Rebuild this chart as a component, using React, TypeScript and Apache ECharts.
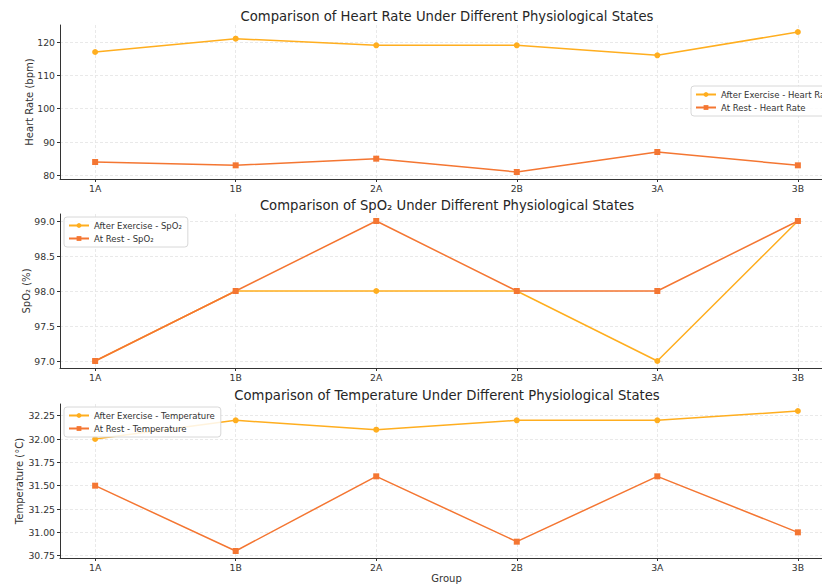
import React, { useEffect, useRef } from "react";
import * as echarts from "echarts";

const categories = ["1A", "1B", "2A", "2B", "3A", "3B"];
const hrExercise = [117, 121, 119, 119, 116, 123];
const hrRest = [84, 83, 85, 81, 87, 83];
const spo2Exercise = [97, 98, 98, 98, 97, 99];
const spo2Rest = [97, 98, 99, 98, 98, 99];
const tempExercise = [32.0, 32.2, 32.1, 32.2, 32.2, 32.3];
const tempRest = [31.5, 30.8, 31.6, 30.9, 31.6, 31.0];
const hrTicks = [80, 90, 100, 110, 120];
const spo2Ticks = [97.0, 97.5, 98.0, 98.5, 99.0];
const tempTicks = [30.75, 31.0, 31.25, 31.5, 31.75, 32.0, 32.25];

const C_EX = "#FFAE1F";
const C_REST = "#F47632";
const FONT = "DejaVu Sans";

export default function App() {
  const ref = useRef<HTMLDivElement>(null);
  useEffect(() => {
    if (!ref.current) return;
    const chart = echarts.init(ref.current, undefined, { renderer: "svg" });
    const xIdx = categories.map((_, i) => i);
    const toPts = (arr: number[]) => arr.map((v, i) => [i, v]);
    const panels = [
      { top: 25, title: "Comparison of Heart Rate Under Different Physiological States", yName: "Heart Rate (bpm)", nameGap: 26, min: 78.9, max: 125.1, ticks: hrTicks, dec: 0, ex: hrExercise, rest: hrRest, exName: "After Exercise - Heart Rate", restName: "At Rest - Heart Rate", legend: { left: 691, top: 86 } },
      { top: 214, title: "Comparison of SpO\u2082 Under Different Physiological States", yName: "SpO\u2082 (%)", nameGap: 29, min: 96.9, max: 99.1, ticks: spo2Ticks, dec: 1, ex: spo2Exercise, rest: spo2Rest, exName: "After Exercise - SpO\u2082", restName: "At Rest - SpO\u2082", legend: { left: 64, top: 217 } },
      { top: 404, title: "Comparison of Temperature Under Different Physiological States", yName: "Temperature (\u00b0C)", nameGap: 36, min: 30.725, max: 32.375, ticks: tempTicks, dec: 2, ex: tempExercise, rest: tempRest, exName: "After Exercise - Temperature", restName: "At Rest - Temperature", legend: { left: 64, top: 407 } },
    ];
    const H = 154;
    const option: any = {
      animation: false,
      backgroundColor: "#ffffff",
      textStyle: { fontFamily: FONT },
      title: panels.map((p) => ({
        text: p.title,
        left: 442,
        textAlign: "center",
        top: p.top - 20,
        textStyle: { fontFamily: FONT, fontSize: 13.2, fontWeight: "normal", color: "#262626" },
      })),
      legend: panels.map((p) => ({
        data: [p.exName, p.restName],
        orient: "vertical",
        left: p.legend.left,
        top: p.legend.top,
        itemWidth: 20,
        itemHeight: 6,
        itemGap: 4,
        padding: [4, 6, 4, 4],
        borderColor: "#d8d8d8",
        borderWidth: 1,
        borderRadius: 3,
        backgroundColor: "rgba(255,255,255,0.85)",
        textStyle: { fontFamily: FONT, fontSize: 8.5, color: "#333" },
      })),
      grid: panels.map((p) => ({ left: 60, width: 773, top: p.top, height: H, outerBoundsMode: "none", containLabel: false })),
      xAxis: panels.map((p, i) => ({
        type: "value",
        gridIndex: i,
        min: -0.25,
        max: 5.25,
        name: i === 2 ? "Group" : "",
        nameLocation: "middle",
        nameGap: 15,
        nameMoveOverlap: false,
        nameTextStyle: { fontFamily: FONT, fontSize: 10, color: "#333", verticalAlign: "top" },
        axisLine: { show: true, onZero: false, lineStyle: { color: "#333", width: 1 } },
        axisTick: { show: true, customValues: xIdx, length: 3, lineStyle: { color: "#333" } },
        axisLabel: {
          customValues: xIdx,
          formatter: (v: number) => categories[Math.round(v)] ?? "",
          fontFamily: FONT,
          fontSize: 9.3,
          color: "#333",
          margin: 5,
        },
        splitLine: { show: true, lineStyle: { color: "#e3e3e3", type: [3, 2], width: 0.8 } },
      })),
      yAxis: panels.map((p, i) => ({
        type: "value",
        gridIndex: i,
        min: p.min,
        max: p.max,
        name: p.yName,
        nameLocation: "middle",
        nameGap: p.nameGap,
        nameMoveOverlap: false,
        nameRotate: 90,
        nameTextStyle: { fontFamily: FONT, fontSize: 10, color: "#333" },
        axisLine: { show: true, onZero: false, lineStyle: { color: "#333", width: 1 } },
        axisTick: { show: true, customValues: p.ticks, length: 3, lineStyle: { color: "#333" } },
        axisLabel: {
          customValues: p.ticks,
          formatter: (v: number) => v.toFixed(p.dec),
          fontFamily: FONT,
          fontSize: 9.3,
          color: "#333",
          margin: 5,
        },
        splitLine: { show: true, lineStyle: { color: "#e3e3e3", type: [3, 2], width: 0.8 } },
      })),
      series: panels.flatMap((p, i) => [
        {
          type: "line",
          name: p.exName,
          xAxisIndex: i,
          yAxisIndex: i,
          data: toPts(p.ex),
          symbol: "circle",
          symbolSize: 6,
          itemStyle: { color: C_EX },
          lineStyle: { color: C_EX, width: 1.5 },
        },
        {
          type: "line",
          name: p.restName,
          xAxisIndex: i,
          yAxisIndex: i,
          data: toPts(p.rest),
          symbol: "rect",
          symbolSize: 6,
          itemStyle: { color: C_REST },
          lineStyle: { color: C_REST, width: 1.5 },
        },
      ]),
    };
    chart.setOption(option);
    return () => chart.dispose();
  }, []);
  return <div ref={ref} style={{ position: "absolute", left: 0, top: 0, width: 822, height: 584 }} />;
}
